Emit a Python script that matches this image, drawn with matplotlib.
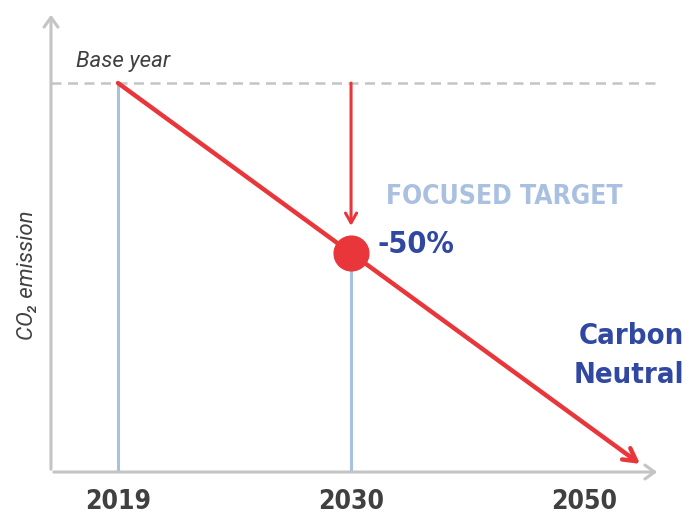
import matplotlib.pyplot as plt

# data
years = ['2019', '2030', '2050']
emission = [100, 50, 0]
target_label = '-50%'

gray = '#c4c4c4'
blue = '#a9c0e0'
red = '#e8363a'
navy = '#3148a3'
dark = '#404040'
cond = dict(family='DejaVu Sans', stretch='condensed', weight='bold')

fig = plt.figure(figsize=(6.91, 5.21), dpi=100)
ax = fig.add_axes([0.0738, 0.094, 0.8814, 0.883])
x = list(range(len(years)))
ax.set_xlim(-0.2876, 2.326)
ax.set_ylim(-14.4, 120.9)
for s in ax.spines.values():
    s.set_visible(False)
ax.set_yticks([])
ax.set_xticks(x)
ax.set_xticklabels(years, fontsize=19, color=dark, **cond)
ax.tick_params(axis='x', length=0, pad=12)

# axes arrows
ax.annotate('', xy=(0, 1), xytext=(0, 0), xycoords='axes fraction',
            arrowprops=dict(arrowstyle='->,head_width=0.5,head_length=0.7', color=gray, lw=2.2))
ax.annotate('', xy=(1, 0), xytext=(0, 0), xycoords='axes fraction',
            arrowprops=dict(arrowstyle='->,head_width=0.5,head_length=0.7', color=gray, lw=2.2))

# base year dashed line
ax.plot([-0.2876, 2.326], [emission[0], emission[0]], ls=(0, (4, 2.6)), color=gray, lw=1.8)

# vertical blue lines
ax.plot([x[0], x[0]], [-14.4, emission[0]], color=blue, lw=2.2, zorder=1)
ax.plot([x[1], x[1]], [-14.4, emission[1]], color=blue, lw=2.2, zorder=1)

# red trend arrow, extended past 2050
slope = (emission[2] - emission[0]) / (x[2] - x[0])
x_end = 2.24
y_end = emission[0] + slope * x_end
ax.annotate('', xy=(x_end, y_end), xytext=(x[0], emission[0]),
            arrowprops=dict(arrowstyle='->,head_width=0.5,head_length=0.9', color=red, lw=3.2,
                            shrinkA=0, shrinkB=0))

# red down arrow at target
ax.annotate('', xy=(x[1], emission[1] + 8), xytext=(x[1], emission[0]),
            arrowprops=dict(arrowstyle='->,head_width=0.4,head_length=0.7', color=red, lw=2.2,
                            shrinkA=0, shrinkB=0))
ax.plot(x[1], emission[1], 'o', color=red, markersize=25, zorder=5)

# texts
ax.text(-0.18, emission[0] + 3.2, 'Base year', style='italic', fontsize=16, color=dark,
        family=['Roboto', 'DejaVu Sans'], va='bottom')
ax.text(1.15, 66.5, 'FOCUSED TARGET', fontsize=19, color=blue, va='center', **cond)
ax.text(1.115, 52.6, target_label, fontsize=22, color=navy, va='center', **cond)
ax.text(2.43, 20, 'Carbon\nNeutral', fontsize=21, color=navy, ha='right', va='center',
        linespacing=1.5, **cond)
ax.set_ylabel('CO₂ emission', style='italic', fontsize=16, color=dark,
              family=['Roboto', 'DejaVu Sans'])
ax.yaxis.set_label_coords(-0.022, 0.428)

fig.savefig('out.png', dpi=100)
